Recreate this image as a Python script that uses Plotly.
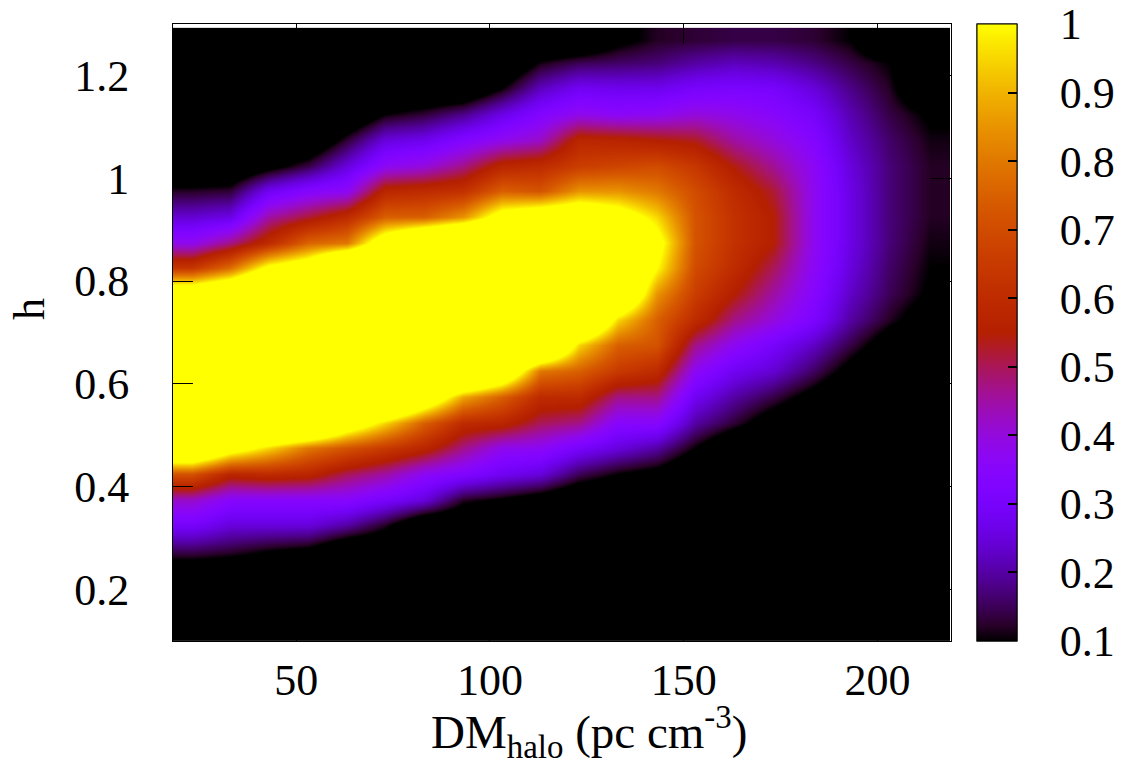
import math
import plotly.graph_objects as go

# DM_halo column centres (pc cm^-3) and h row centres
DM = [23, 33, 43, 53, 63, 73, 83, 93, 103, 113, 123, 133, 143, 153, 163, 173, 183, 193, 203, 213.5]
H = [0.125, 0.175, 0.225, 0.275, 0.325, 0.375, 0.425, 0.475, 0.525, 0.575, 0.625, 0.675,
     0.725, 0.775, 0.825, 0.875, 0.925, 0.975, 1.025, 1.075, 1.125, 1.175, 1.225, 1.27]

# normalised likelihood, one row per h value (>1 shown saturated)
row_0125 = [0]*20
row_0175 = [0]*20
row_0225 = [0]*20
row_0275 = [0.15, 0.13, 0.1, 0.08, 0, 0, 0, 0, 0, 0, 0, 0, 0, 0, 0, 0, 0, 0, 0, 0]
row_0325 = [0.3, 0.25, 0.25, 0.25, 0.2, 0.12, 0, 0, 0, 0, 0, 0, 0, 0, 0, 0, 0, 0, 0, 0]
row_0375 = [0.42, 0.35, 0.35, 0.35, 0.35, 0.3, 0.25, 0.12, 0.09, 0.05, 0, 0, 0, 0, 0, 0, 0, 0, 0, 0]
row_0425 = [0.72, 0.58, 0.6, 0.58, 0.5, 0.45, 0.37, 0.33, 0.28, 0.25, 0.15, 0.1, 0.07, 0, 0, 0, 0, 0, 0, 0]
row_0475 = [1.35, 1.1, 0.95, 0.8, 0.72, 0.65, 0.58, 0.47, 0.38, 0.37, 0.3, 0.25, 0.2, 0.1, 0, 0, 0, 0, 0, 0]
row_0525 = [1.5, 1.5, 1.5, 1.45, 1.15, 0.95, 0.75, 0.6, 0.58, 0.5, 0.47, 0.35, 0.35, 0.2, 0.13, 0.05, 0, 0, 0, 0]
row_0575 = [1.5, 1.5, 1.5, 1.5, 1.5, 1.5, 1.2, 0.88, 0.75, 0.6, 0.6, 0.47, 0.47, 0.28, 0.2, 0.14, 0.07, 0, 0, 0]
row_0625 = [1.5, 1.5, 1.5, 1.5, 1.5, 1.5, 1.5, 1.5, 1.25, 0.8, 0.75, 0.65, 0.6, 0.37, 0.28, 0.24, 0.16, 0.07, 0, 0]
row_0675 = [1.5, 1.5, 1.5, 1.5, 1.5, 1.5, 1.5, 1.5, 1.5, 1.45, 0.95, 0.75, 0.72, 0.47, 0.37, 0.3, 0.23, 0.14, 0.05, 0]
row_0725 = [1.5, 1.5, 1.5, 1.5, 1.5, 1.5, 1.5, 1.5, 1.5, 1.5, 1.4, 0.95, 0.75, 0.6, 0.47, 0.4, 0.32, 0.2, 0.12, 0.05]
row_0775 = [1.2, 1.3, 1.5, 1.5, 1.5, 1.5, 1.5, 1.5, 1.5, 1.5, 1.5, 1.3, 0.85, 0.66, 0.55, 0.45, 0.35, 0.23, 0.15, 0.09]
row_0825 = [0.64, 0.78, 1.05, 1.15, 1.5, 1.5, 1.5, 1.5, 1.5, 1.5, 1.5, 1.35, 1.0, 0.7, 0.6, 0.5, 0.37, 0.25, 0.16, 0.1]
row_0875 = [0.38, 0.47, 0.6, 0.76, 0.8, 1.15, 1.38, 1.5, 1.5, 1.5, 1.5, 1.35, 1.06, 0.72, 0.62, 0.55, 0.38, 0.26, 0.17, 0.11]
row_0925 = [0.24, 0.26, 0.45, 0.52, 0.6, 0.75, 0.75, 0.85, 1.09, 1.17, 1.2, 1.1, 0.95, 0.72, 0.62, 0.55, 0.38, 0.26, 0.17, 0.12]
row_0975 = [0.12, 0.13, 0.28, 0.34, 0.37, 0.58, 0.6, 0.62, 0.75, 0.72, 0.85, 0.85, 0.8, 0.7, 0.6, 0.52, 0.38, 0.26, 0.17, 0.12]
row_1025 = [0, 0, 0.07, 0.14, 0.25, 0.37, 0.4, 0.47, 0.58, 0.6, 0.66, 0.68, 0.7, 0.64, 0.54, 0.46, 0.37, 0.25, 0.17, 0.12]
row_1075 = [0, 0, 0, 0, 0.13, 0.25, 0.27, 0.33, 0.38, 0.42, 0.58, 0.57, 0.55, 0.53, 0.45, 0.4, 0.34, 0.23, 0.16, 0.11]
row_1125 = [0, 0, 0, 0, 0, 0.1, 0.13, 0.18, 0.26, 0.33, 0.38, 0.36, 0.37, 0.4, 0.38, 0.35, 0.3, 0.21, 0.14, 0.09]
row_1175 = [0, 0, 0, 0, 0, 0, 0, 0, 0.1, 0.22, 0.28, 0.27, 0.27, 0.3, 0.31, 0.3, 0.25, 0.18, 0.12, 0]
row_1225 = [0, 0, 0, 0, 0, 0, 0, 0, 0, 0.11, 0.15, 0.16, 0.17, 0.2, 0.22, 0.21, 0.18, 0.14, 0.1, 0]
row_1270 = [0, 0, 0, 0, 0, 0, 0, 0, 0, 0, 0, 0.08, 0.12, 0.13, 0.14, 0.14, 0.13, 0.1, 0, 0]

Z = [row_0125, row_0175, row_0225, row_0275, row_0325, row_0375, row_0425, row_0475,
     row_0525, row_0575, row_0625, row_0675, row_0725, row_0775, row_0825, row_0875,
     row_0925, row_0975, row_1025, row_1075, row_1125, row_1175, row_1225, row_1270]

X_TICKS = [50, 100, 150, 200]
Y_TICKS = [0.2, 0.4, 0.6, 0.8, 1.0, 1.2]
Y_TICKTEXT = ["0.2", "0.4", "0.6", "0.8", "1", "1.2"]
CB_TICKS = [0.1, 0.2, 0.3, 0.4, 0.5, 0.6, 0.7, 0.8, 0.9, 1.0]
CB_TICKTEXT = ["0.1", "0.2", "0.3", "0.4", "0.5", "0.6", "0.7", "0.8", "0.9", "1"]
CB_MIN, CB_MAX = 0.1, 1.0


# gnuplot default palette (rgbformulae 7,5,15)
def gp_color(t):
    r = math.sqrt(t)
    g = t ** 3
    b = max(0.0, math.sin(2 * math.pi * t))
    return "rgb(%d,%d,%d)" % (round(255 * r), round(255 * g), round(255 * b))


N = 40
colorscale = [[i / N, gp_color(i / N)] for i in range(N + 1)]

FONT = "Liberation Serif, Times New Roman, serif"
FS = 44

fig = go.Figure()
fig.add_trace(go.Heatmap(
    x=DM, y=H, z=Z, zsmooth="best", coloraxis="coloraxis",
    hoverinfo="skip",
))
# second colour bar only for gnuplot-like inside tick dashes
fig.add_trace(go.Scatter(
    x=[None], y=[None], mode="markers", showlegend=False, hoverinfo="skip",
    marker=dict(color=[CB_MIN], coloraxis="coloraxis2"),
))

cb_x = (988 - 173) / 789

fig.update_layout(
    width=1127, height=766,
    margin=dict(l=173, r=165, t=24, b=125),
    paper_bgcolor="white", plot_bgcolor="white",
    font=dict(family=FONT, size=FS, color="black"),
    showlegend=False,
    coloraxis=dict(
        cmin=CB_MIN, cmax=CB_MAX, colorscale=colorscale,
        colorbar=dict(
            x=cb_x, xanchor="left", xpad=0, y=0.5, yanchor="middle", len=1, lenmode="fraction",
            ypad=0, thickness=40, outlinewidth=1, outlinecolor="black",
            tickvals=CB_TICKS, ticktext=CB_TICKTEXT, ticks="outside", ticklen=34,
            tickcolor="rgba(0,0,0,0)", tickfont=dict(family=FONT, size=FS),
        ),
    ),
    coloraxis2=dict(
        cmin=CB_MIN, cmax=CB_MAX, colorscale=colorscale,
        colorbar=dict(
            x=cb_x, xanchor="left", xpad=0, y=0.5, yanchor="middle", len=1, lenmode="fraction",
            ypad=0, thickness=40, outlinewidth=1, outlinecolor="black",
            tickvals=CB_TICKS[1:-1], ticks="inside", ticklen=9, tickwidth=1.5,
            tickcolor="black", showticklabels=False,
        ),
    ),
    xaxis=dict(
        range=[18.2, 219.0], tickvals=X_TICKS, ticks="inside", ticklen=20,
        tickcolor="black", showline=True, linecolor="black", linewidth=1, mirror="ticks",
        showgrid=False, zeroline=False, tickfont=dict(family=FONT, size=FS),
        ticklabelstandoff=0,
    ),
    yaxis=dict(
        range=[0.1, 1.3], tickvals=Y_TICKS, ticktext=Y_TICKTEXT, ticks="inside", ticklen=20,
        tickcolor="black", showline=True, linecolor="black", linewidth=1, mirror="ticks",
        showgrid=False, zeroline=False, tickfont=dict(family=FONT, size=FS),
        ticklabelstandoff=34,
    ),
    annotations=[
        dict(text="DM<sub>halo</sub> (pc cm<sup>-3</sup>)", xref="paper", yref="paper",
             x=(595 - 173) / 789, y=(641 - 697) / 617, xanchor="center", yanchor="top",
             showarrow=False, font=dict(family=FONT, size=47)),
        dict(text="h", xref="paper", yref="paper", textangle=-90,
             x=(27 - 173) / 789, y=(641 - 309) / 617, xanchor="center", yanchor="middle",
             showarrow=False, font=dict(family=FONT, size=FS)),
    ],
)

fig.write_html("out.html")
